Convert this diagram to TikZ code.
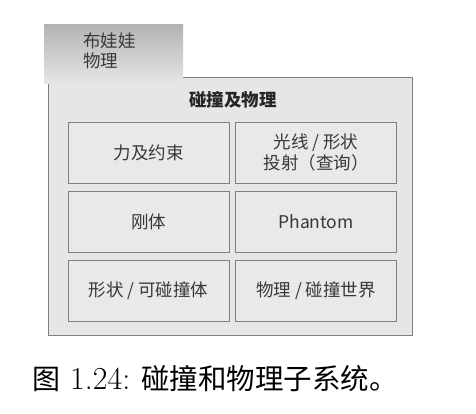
\documentclass[tikz,border=0pt]{standalone}
\usepackage{fontspec}
\newfontfamily\cjk{Noto Sans CJK SC}
\definecolor{boxfill}{HTML}{E6E6E6}
\definecolor{innerfill}{HTML}{E9E9E9}
\definecolor{boxline}{HTML}{808080}
\definecolor{txt}{HTML}{383838}
\begin{document}
\begin{tikzpicture}[x=1pt,y=-1pt,
  cell/.style={draw=boxline, fill=innerfill, line width=0.8pt, minimum width=161pt, minimum height=61pt,
    inner sep=0pt, align=center, font=\cjk\fontsize{17.5}{21}\selectfont, text=txt},
  lbl/.style={inner sep=0pt, align=left, font=\cjk\fontsize{17.5}{20}\selectfont, text=txt}]
\useasboundingbox (0,0) rectangle (476,413);
\fill[white] (0,0) rectangle (476,413);
% main box
\draw[draw=boxline, fill=boxfill, line width=0.8pt] (48,77) rectangle (412,335);
% tab
\shade[top color=black!30, bottom color=boxfill] (44,24) rectangle (183,83);
\node[lbl, anchor=north west] (tab) at (83,33) {布娃娃\\物理};
\node[inner sep=0pt, font=\cjk\bfseries\fontsize{17.5}{21}\selectfont, text=black!85] (title) at (233,100) {碰撞及物理};
% cells
\node[cell] (force) at (148.5,152.5) {力及约束};
\node[cell] (ray) at (316,152.5) {光线 / 形状\\投射（查询）};
\node[cell] (rigid) at (148.5,221.5) {刚体};
\node[cell] (phantom) at (316,221.5) {Phantom};
\node[cell] (shape) at (148.5,290.5) {形状 / 可碰撞体};
\node[cell] (world) at (316,290.5) {物理 / 碰撞世界};
% caption
\node[inner sep=0pt, anchor=base west] (cap) at (32,389)
  {{\cjk\fontsize{28}{30}\selectfont 图}\hspace{10pt}{\fontsize{32}{34}\selectfont 1.24:}\hspace{11pt}{\cjk\fontsize{28.5}{30}\selectfont 碰撞和物理子系统。}};
\end{tikzpicture}
\end{document}
